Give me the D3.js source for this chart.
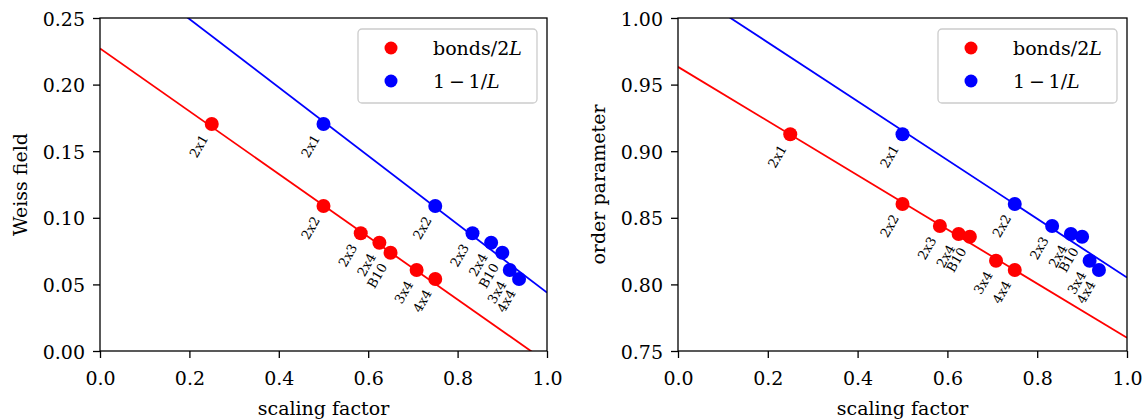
<!DOCTYPE html>
<html>
<head>
<meta charset="utf-8">
<script src="https://cdn.jsdelivr.net/npm/d3@7"></script>
<style>
  html, body { margin: 0; padding: 0; background: #fff; }
  svg { display: block; }
  text { font-family: "DejaVu Serif", serif; fill: #000; }
</style>
</head>
<body>
<svg id="chart" width="1145" height="419"></svg>
<script>
// ---------- data ----------
const systems      = ["2x1", "2x2", "2x3", "2x4", "B10", "3x4", "4x4"];
const bondsOver2L  = [0.25, 0.5, 0.5833, 0.625, 0.65, 0.7083, 0.75];
const oneMinusInvL = [0.5, 0.75, 0.8333, 0.875, 0.9, 0.9167, 0.9375];
const weissField   = [0.1704, 0.1089, 0.0884, 0.0813, 0.0738, 0.0608, 0.0541];
const orderParam   = [0.9127, 0.8604, 0.8438, 0.8378, 0.8358, 0.8178, 0.8108];

// fitted straight lines, values read at x = 0 and x = 1
const fitX              = [0, 1];
const weissFitBonds     = [0.2271, -0.0085];
const weissFitInvL      = [0.3006, 0.0438];
const orderFitBonds     = [0.9633, 0.7599];
const orderFitInvL      = [1.0258, 0.8051];

const xTicks        = [0, 0.2, 0.4, 0.6, 0.8, 1.0];
const weissTicks    = [0, 0.05, 0.10, 0.15, 0.20, 0.25];
const orderTicks    = [0.75, 0.80, 0.85, 0.90, 0.95, 1.00];

const seriesNames  = ["bonds/2L", "1-1/L"];
const seriesColors = ["#ff0000", "#0000ff"];

// ---------- drawing ----------
const svg = d3.select("#chart");
const plotTop = 18, plotBottom = 351;

function panel(opt) {
  const g = svg.append("g");
  const x = d3.scaleLinear().domain([0, 1]).range([opt.left, opt.right]);
  const y = d3.scaleLinear().domain(opt.yDomain).range([plotBottom, plotTop]);

  const clipId = "clip" + opt.id;
  svg.append("clipPath").attr("id", clipId)
    .append("rect").attr("x", opt.left).attr("y", plotTop)
    .attr("width", opt.right - opt.left).attr("height", plotBottom - plotTop);

  // fit lines
  const line = d3.line().x((d, i) => x(fitX[i])).y(d => y(d));
  opt.fits.forEach((f, k) => {
    g.append("path").attr("d", line(f))
      .attr("fill", "none").attr("stroke", seriesColors[k])
      .attr("stroke-width", 1.8).attr("clip-path", `url(#${clipId})`);
  });

  // points
  opt.xs.forEach((xs, k) => {
    g.append("g").selectAll("circle").data(opt.ys).join("circle")
      .attr("cx", (d, i) => x(xs[i])).attr("cy", d => y(d))
      .attr("r", 7).attr("fill", seriesColors[k]);
  });

  // point labels (rotated 60deg)
  opt.xs.forEach((xs, k) => {
    g.append("g").selectAll("text").data(systems).join("text")
      .attr("transform", (d, i) => `translate(${x(xs[i]) - 3},${y(opt.ys[i]) + 14}) rotate(-60)`)
      .attr("text-anchor", "end")
      .style("font-size", "13px")
      .text(d => d);
  });

  // axes
  const xAxis = d3.axisBottom(x).tickValues(xTicks).tickFormat(d3.format(".1f"))
    .tickSize(7).tickPadding(6);
  const yAxis = d3.axisLeft(y).tickValues(opt.yTicks).tickFormat(d3.format(".2f"))
    .tickSize(7).tickPadding(6);
  const gx = g.append("g").attr("transform", `translate(0,${plotBottom})`).call(xAxis);
  const gy = g.append("g").attr("transform", `translate(${opt.left},0)`).call(yAxis);
  [gx, gy].forEach(a => {
    a.select(".domain").remove();
    a.selectAll("line").attr("stroke", "#000").attr("stroke-width", 1.3);
    a.selectAll("text").style("font-size", "19px").attr("fill", "#000")
      .style("font-family", "DejaVu Serif, serif");
  });
  gx.selectAll("text").attr("dy", null).attr("y", 34);
  gy.selectAll("text").attr("dy", null).attr("dominant-baseline", null).attr("y", 7).attr("x", -15);

  // frame
  g.append("rect").attr("x", opt.left).attr("y", plotTop)
    .attr("width", opt.right - opt.left).attr("height", plotBottom - plotTop)
    .attr("fill", "none").attr("stroke", "#000").attr("stroke-width", 1.3);

  // axis labels
  g.append("text").attr("x", (opt.left + opt.right) / 2).attr("y", 415)
    .attr("text-anchor", "middle").style("font-size", "19px").text("scaling factor");
  g.append("text")
    .attr("transform", `translate(${opt.left - 73},${(plotTop + plotBottom) / 2}) rotate(-90)`)
    .attr("text-anchor", "middle").style("font-size", "19px").text(opt.yLabel);

  // legend
  const bx = opt.right - 10 - 179, by = plotTop + 11;
  const lg = g.append("g");
  lg.append("rect").attr("x", bx).attr("y", by).attr("width", 179).attr("height", 74)
    .attr("rx", 4).attr("fill", "#fff").attr("fill-opacity", 0.8)
    .attr("stroke", "#cccccc").attr("stroke-width", 1.3);
  const rows = [by + 19, by + 52];
  seriesNames.forEach((s, k) => {
    lg.append("circle").attr("cx", bx + 33).attr("cy", rows[k]).attr("r", 6.5)
      .attr("fill", seriesColors[k]);
    const t = lg.append("text").attr("x", bx + 75).attr("y", rows[k] + 7)
      .style("font-size", "19px");
    if (k === 0) {
      t.append("tspan").text("bonds/2");
      t.append("tspan").style("font-style", "italic").text("L");
    } else {
      t.append("tspan").text("1\u2009\u2212\u20091/");
      t.append("tspan").style("font-style", "italic").text("L");
    }
  });
}

panel({ id: "L", left: 100, right: 547, yDomain: [0, 0.25], yTicks: weissTicks,
        ys: weissField, xs: [bondsOver2L, oneMinusInvL],
        fits: [weissFitBonds, weissFitInvL], yLabel: "Weiss field" });
panel({ id: "R", left: 678, right: 1127, yDomain: [0.75, 1.0], yTicks: orderTicks,
        ys: orderParam, xs: [bondsOver2L, oneMinusInvL],
        fits: [orderFitBonds, orderFitInvL], yLabel: "order parameter" });
</script>
</body>
</html>
